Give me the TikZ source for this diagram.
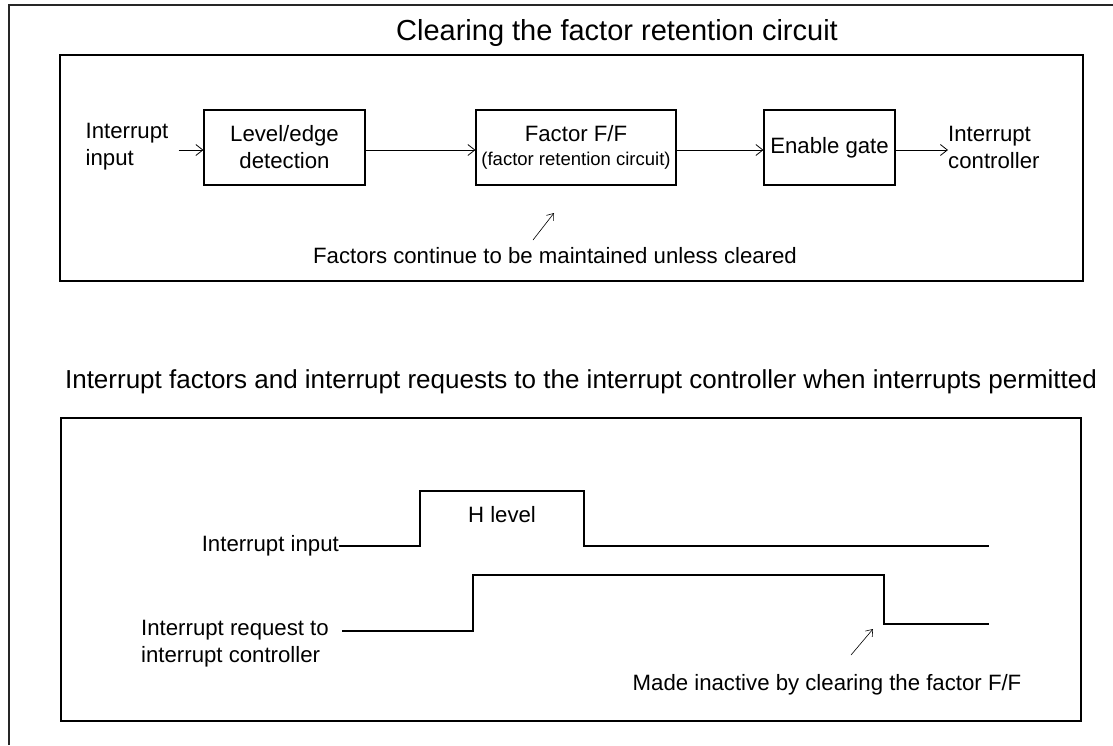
\documentclass[tikz,border=0pt]{standalone}
\usepackage{fontspec}
\setmainfont{Liberation Sans}
\usepackage{tikz}
\usetikzlibrary{arrows.meta,positioning}

\begin{document}
\begin{tikzpicture}[
  x=1pt,y=-1pt,
  font=\fontsize{22.2}{27}\selectfont,
  frm/.style={draw=black,line width=2.8pt},
  blk/.style={draw=black,line width=1.1pt,minimum height=75pt,align=center,inner sep=2pt},
  lbl/.style={align=left,inner sep=0pt},
  ttl/.style={inner sep=0pt},
  ar/.style={-{Straight Barb[length=7pt,width=11pt]},line width=0.8pt},
  wave/.style={line width=1.8pt}
]
\useasboundingbox (0,0) rectangle (1113,745);
% ---- outer frame
\draw[line width=1.8pt,draw=black!85] (9,745) -- (9,5) -- (1113,5);

% ---- top panel : block diagram
\node[ttl,font=\fontsize{29}{34}\selectfont] (t1) at (617,33) {Clearing the factor retention circuit};
\draw[frm] (60,55) rectangle (1083,281);

\node[lbl] (inp) at (127,147) {Interrupt\\input};
\node[blk,minimum width=161pt] (det) at (284.5,147.5) {Level/edge\\detection};
\node[blk,minimum width=200pt] (ff) at (576,147.5)
  {Factor F/F\\[-3pt]{\fontsize{18.5}{22}\selectfont (factor retention circuit)}};
\node[blk,minimum width=131pt] (gate) at (829.5,147.5) {Enable gate};
\node[lbl,anchor=west] (ctl) at (948,147) {Interrupt\\controller};
\draw[ar] (inp.east) ++(10,3) -- (det.west|-0,150);
\draw[ar] (det.east|-0,150) -- (ff.west|-0,150);
\draw[ar] (ff.east|-0,150) -- (gate.west|-0,150);
\draw[ar] (gate.east|-0,150) -- (ctl.west|-0,150);

\node[inner sep=0pt] (note1) at (555,256) {Factors continue to be maintained unless cleared};
\coordinate (n1a) at (533,240);
\coordinate (n1b) at (554,213);
\draw[ar,line width=0.6pt,-{Straight Barb[length=6pt,width=9pt]}] (n1a) -- (n1b);

% ---- bottom panel : timing
\node[ttl,font=\fontsize{26}{31}\selectfont] (t2) at (581,382) {Interrupt factors and interrupt requests to the interrupt controller when interrupts permitted};
\draw[frm] (61,418) rectangle (1081,721);

\node[lbl,anchor=east] (sin) at (339,546) {Interrupt input};
\node[lbl,anchor=west] (sreq) at (141,644) {Interrupt request to\\interrupt controller};
\node[inner sep=0pt] (hl) at (502,515) {H level};
\draw[wave] (sin.east) -- (420,546) -- (420,491) -- (584,491) -- (584,546) -- (989,546);
\draw[wave] (342,631) -- (473,631) -- (473,575) -- (884,575) -- (884,624) -- (989,624);

\node[inner sep=0pt] (note2) at (827,685) {Made inactive by clearing the factor F/F};
\coordinate (n2a) at (851,655);
\coordinate (n2b) at (873,629);
\draw[ar,line width=0.6pt,-{Straight Barb[length=6pt,width=9pt]}] (n2a) -- (n2b);
\end{tikzpicture}
\end{document}
